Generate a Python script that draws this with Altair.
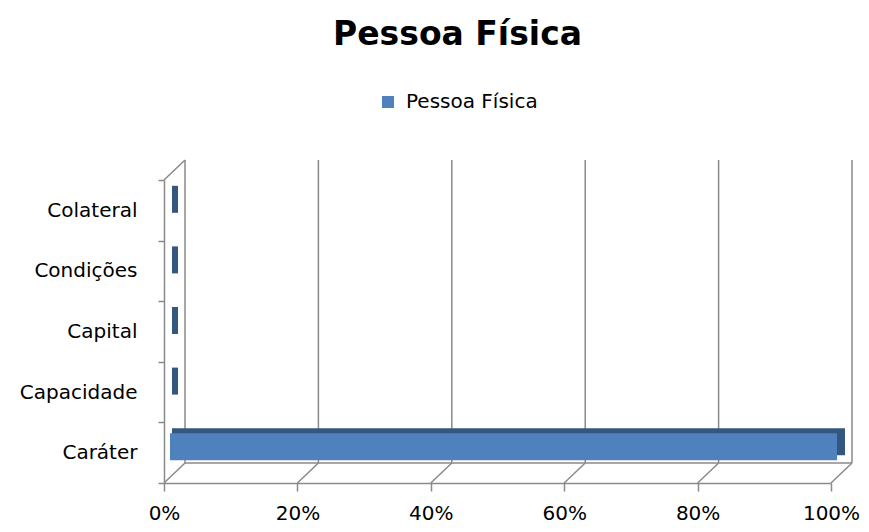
import altair as alt
import pandas as pd

categories = ["Colateral", "Condições", "Capital", "Capacidade", "Caráter"]
values = [0.0, 0.0, 0.0, 0.0, 1.0]
series = "Pessoa Física"
ticks = [0.0, 0.2, 0.4, 0.6, 0.8, 1.0]

df = pd.DataFrame({"cat": categories, "val": values, "serie": [series] * len(categories)})
grid_df = pd.DataFrame({"t": ticks})
frame_df = pd.DataFrame({"a": [0.0], "b": [1.0]})

W, H = 667, 303
DX, DY = 21, -20
GRID = "#8a8a8a"
FONT = "DejaVu Sans"

xs = alt.Scale(domain=[0, 1], nice=False, zero=False)
ys = alt.Scale(paddingInner=0, paddingOuter=0)

x_axis = alt.Axis(title=None, values=ticks, format=".0%", grid=False,
                  domainColor=GRID, domainWidth=1.5, tickColor=GRID,
                  tickWidth=1.5, tickSize=8, labelPadding=12,
                  labelFontSize=20, labelColor="#000000",
                  labelFont=FONT, labelFlush=False)
y_axis = alt.Axis(title=None, tickBand="extent", domainColor=GRID,
                  domainWidth=1.5, tickColor=GRID, tickWidth=1.5,
                  tickSize=6, labelPadding=21, labelFontSize=20,
                  labelColor="#000000", labelFont=FONT)

# back wall gridlines
back_grid = alt.Chart(grid_df).mark_rule(
    color=GRID, strokeWidth=1.5, xOffset=DX, yOffset=DY, y2Offset=DY
).encode(
    x=alt.X("t:Q", scale=xs, axis=x_axis),
    y=alt.value(0),
    y2=alt.value(H),
)

# floor diagonals
floor_diag = alt.Chart(grid_df).mark_rule(
    color=GRID, strokeWidth=1.5, x2Offset=DX, y2Offset=DY
).encode(
    x=alt.X("t:Q", scale=xs, axis=x_axis),
    x2="t:Q",
    y=alt.value(H),
    y2=alt.value(H),
)

# floor back line
floor_back = alt.Chart(frame_df).mark_rule(
    color=GRID, strokeWidth=1.5, xOffset=DX, x2Offset=DX, yOffset=DY, y2Offset=DY
).encode(
    x=alt.X("a:Q", scale=xs, axis=x_axis),
    x2="b:Q",
    y=alt.value(H),
    y2=alt.value(H),
)

# wall top diagonal
wall_top = alt.Chart(frame_df).mark_rule(
    color=GRID, strokeWidth=1.5, x2Offset=DX, y2Offset=DY
).encode(
    x=alt.X("a:Q", scale=xs, axis=x_axis),
    x2="a:Q",
    y=alt.value(0),
    y2=alt.value(0),
)

sort_order = categories

bar_back = alt.Chart(df).transform_calculate(zero="0").mark_bar(
    size=27, color="#34577f", xOffset=8, x2Offset=14, yOffset=-11
).encode(
    y=alt.Y("cat:N", sort=sort_order, scale=ys, axis=y_axis),
    x=alt.X("zero:Q", scale=xs, axis=x_axis),
    x2="val:Q",
)

bar_front = alt.Chart(df).transform_calculate(zero="0").mark_bar(
    size=27, xOffset=6, x2Offset=6, yOffset=-6
).encode(
    y=alt.Y("cat:N", sort=sort_order, scale=ys, axis=y_axis),
    x=alt.X("zero:Q", scale=xs, axis=x_axis),
    x2="val:Q",
    color=alt.Color("serie:N", scale=alt.Scale(range=["#4f81bd"]),
                    legend=alt.Legend(title=None, orient="none", legendX=214,
                                      legendY=-88, symbolType="square",
                                      symbolSize=144, symbolStrokeWidth=0,
                                      labelFontSize=20, labelFont=FONT,
                                      labelColor="#000000", labelOffset=8)),
)

chart = alt.layer(
    back_grid, floor_diag, floor_back, wall_top, bar_back, bar_front
).properties(
    width=W,
    height=H,
    title=alt.TitleParams("Pessoa Física", fontSize=33, font=FONT,
                          fontWeight="bold", color="#000000", anchor="middle",
                          dx=-40, offset=40),
    autosize=alt.AutoSizeParams(type="none"),
    padding={"left": 156, "top": 172, "right": 30, "bottom": 41},
).configure_view(stroke=None)

chart.save("out.html", embed_options={"renderer": "svg", "actions": False})
